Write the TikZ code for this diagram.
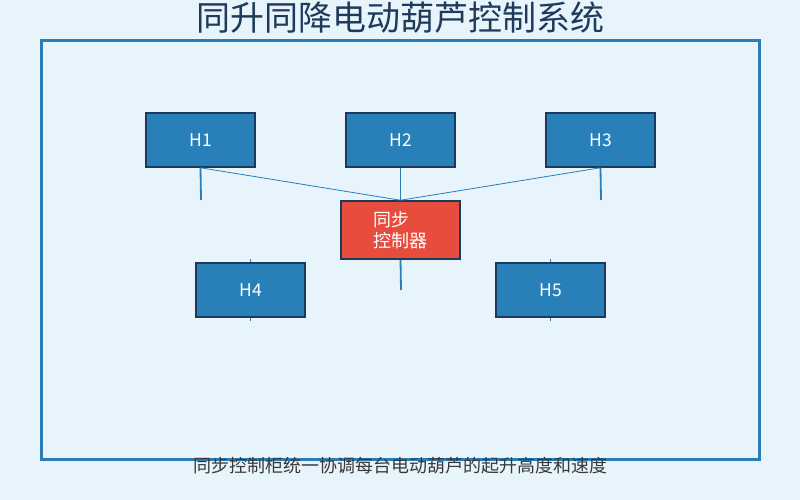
\documentclass[tikz,border=0pt]{standalone}
\usepackage{fontspec}
\setmainfont{Noto Sans CJK SC}
\usepackage{tikz}

\definecolor{bgblue}{HTML}{E8F4FC}
\definecolor{hoist}{HTML}{2980B9}
\definecolor{edge}{HTML}{1B3A5C}
\definecolor{ctrlred}{HTML}{E74C3C}
\definecolor{wire}{HTML}{2A7DB5}
\definecolor{titleblue}{HTML}{1F3A5A}

\tikzset{
  hoistbox/.style={draw=edge, line width=1.5pt, fill=hoist, text=white,
    minimum width=109pt, minimum height=54pt, font=\fontsize{17.5}{20}\selectfont},
  ctrlbox/.style={hoistbox, fill=ctrlred, minimum width=119pt, minimum height=58pt,
    align=left, font=\fontsize{18}{21}\selectfont},
  stub/.style={wire, line width=1.8pt},
  link/.style={wire, line width=0.8pt}
}

\begin{document}
\begin{tikzpicture}[x=1pt,y=-1pt]
	\useasboundingbox [fill=bgblue] (0,0) rectangle (800,500);
	% frame and headings
	\draw [wire, line width=3pt] (41,41) rectangle (759,459);
	\node (title) [text=titleblue, font=\fontsize{34}{38}\selectfont] at (400,18) {同升同降电动葫芦控制系统};
	\node (note) [text=black!78, font=\fontsize{18}{20}\selectfont] at (400,466) {同步控制柜统一协调每台电动葫芦的起升高度和速度};
	% hoists
	\node (h1) [hoistbox] at (200.5,140) {H1};
	\node (h2) [hoistbox] at (400.5,140) {H2};
	\node (h3) [hoistbox] at (600.5,140) {H3};
	\node (ctrl) [ctrlbox] at (400.5,230) {同步\\控制器};
	\node (h4) [hoistbox] at (250.5,290) {H4};
	\node (h5) [hoistbox] at (550.5,290) {H5};
	% wiring
	\coordinate (e1) at (201,200);
	\coordinate (e3) at (601,200);
	\coordinate (e6) at (401,290);
	\draw [stub] (h1.south) -- (e1);
	\draw [stub] (h2.south) -- (ctrl.north);
	\draw [stub] (h3.south) -- (e3);
	\draw [link] (h1.south) -- (ctrl.north);
	\draw [link] (h3.south) -- (ctrl.north);
	\draw [stub] (ctrl.south) -- (e6);
	\draw [link] (h4.north) -- +(0,-3);
	\draw [link] (h4.south) -- +(0,3);
	\draw [link] (h5.north) -- +(0,-3);
	\draw [link] (h5.south) -- +(0,3);
\end{tikzpicture}
\end{document}
